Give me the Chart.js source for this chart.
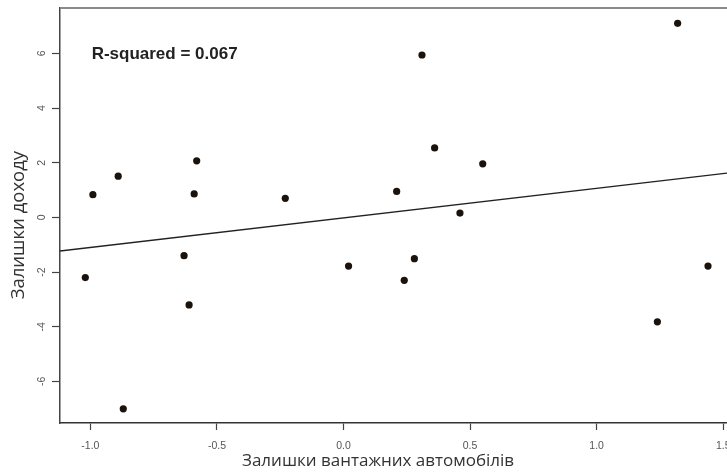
<!DOCTYPE html>
<html>
<head>
<meta charset="utf-8">
<script src="https://cdn.jsdelivr.net/npm/chart.js@4/dist/chart.umd.min.js"></script>
<style>
  html, body { margin: 0; background: #fff; overflow: hidden; }
  #chart { display: block; }
</style>
</head>
<body>
<!-- the plot runs past the right edge of the window, as in the cropped original -->
<canvas id="chart" width="731" height="473"></canvas>
<script>
// residuals (partial regression)
const truckResid = [-1.02, -0.99, -0.89, -0.87, -0.63, -0.61, -0.59, -0.58, -0.23, 0.02,
                    0.21, 0.24, 0.28, 0.31, 0.36, 0.46, 0.55, 1.24, 1.32, 1.44];
const incomeResid = [-2.2, 0.83, 1.51, -7.0, -1.40, -3.20, 0.86, 2.07, 0.70, -1.78,
                     0.95, -2.30, -1.51, 5.94, 2.54, 0.16, 1.96, -3.82, 7.10, -1.78];

// fitted line ends
const fitX = [-1.12, 1.515];
const fitY = [-1.23, 1.62];

const xTicks = [-1.0, -0.5, 0.0, 0.5, 1.0, 1.5];
const yTicks = [-6, -4, -2, 0, 2, 4, 6];

const rSquaredLabel = 'R-squared = 0.067';
const xTitle = 'Залишки вантажних автомобілів';
const yTitle = 'Залишки доходу';

// titles sit a bit off the plot centre in the original
const pad = n => '\u00A0'.repeat(n);

const frameAndLabel = {
    id: 'frameAndLabel',
    afterDraw(chart) {
        const ctx = chart.ctx;
        const area = chart.chartArea;
        ctx.save();
        ctx.strokeStyle = '#8a8a8a';
        ctx.lineWidth = 2;
        ctx.beginPath();
        ctx.moveTo(area.left, area.top);
        ctx.lineTo(chart.width, area.top);
        ctx.stroke();

        const x = chart.scales.x.getPixelForValue(-0.995);
        const y = chart.scales.y.getPixelForValue(5.95);
        ctx.fillStyle = '#222';
        ctx.font = 'bold 17px "Liberation Sans", Arial, sans-serif';
        ctx.textAlign = 'left';
        ctx.textBaseline = 'middle';
        ctx.fillText(rSquaredLabel, x, y);
        ctx.restore();
    }
};

const ctx = document.getElementById('chart').getContext('2d');
new Chart(ctx, {
    type: 'scatter',
    data: {
        datasets: [{
            data: truckResid.map((v, i) => ({ x: v, y: incomeResid[i] })),
            pointRadius: 3.6,
            pointBackgroundColor: '#1a120b',
            pointBorderWidth: 0
        }, {
            type: 'line',
            data: fitX.map((v, i) => ({ x: v, y: fitY[i] })),
            borderColor: '#222',
            borderWidth: 1.4,
            pointRadius: 0,
            fill: false
        }]
    },
    options: {
        responsive: false,
        devicePixelRatio: 1,
        animation: false,
        events: [],
        layout: { padding: { top: 8, right: 0, left: 0, bottom: 0 } },
        plugins: {
            legend: { display: false },
            tooltip: { enabled: false }
        },
        scales: {
            x: {
                type: 'linear',
                min: -1.12,
                max: 1.515,
                afterBuildTicks: s => { s.ticks = xTicks.map(v => ({ value: v })); },
                afterFit: s => { s.height = 50; s.paddingLeft = 0; s.paddingRight = 0; },
                grid: { drawOnChartArea: false, tickLength: 7, tickColor: '#444', tickWidth: 1.2 },
                border: { color: '#333', width: 1.5 },
                ticks: {
                    padding: 10,
                    maxRotation: 0,
                    color: '#555',
                    font: { family: '"Liberation Sans", Arial, sans-serif', size: 10.5 },
                    callback: v => v.toFixed(1)
                },
                title: {
                    display: true,
                    text: xTitle + pad(7),
                    color: '#333',
                    font: { family: '"Open Sans", sans-serif', size: 17 },
                    padding: { bottom: 2 }
                }
            },
            y: {
                min: -7.52,
                max: 7.66,
                afterBuildTicks: s => { s.ticks = yTicks.map(v => ({ value: v })); },
                afterFit: s => { s.width = 60; s.paddingTop = 0; s.paddingBottom = 0; },
                grid: { drawOnChartArea: false, tickLength: 8, tickColor: '#444', tickWidth: 1.2 },
                border: { color: '#444', width: 1.5 },
                ticks: {
                    padding: 5,
                    minRotation: 90,
                    maxRotation: 90,
                    crossAlign: 'center',
                    color: '#555',
                    font: { family: '"Liberation Sans", Arial, sans-serif', size: 10.5 },
                    callback: v => String(v)
                },
                title: {
                    display: true,
                    text: yTitle + pad(4),
                    color: '#333',
                    font: { family: '"Open Sans", sans-serif', size: 18.5 },
                    padding: { top: 8 }
                }
            }
        }
    },
    plugins: [frameAndLabel]
});
</script>
</body>
</html>
